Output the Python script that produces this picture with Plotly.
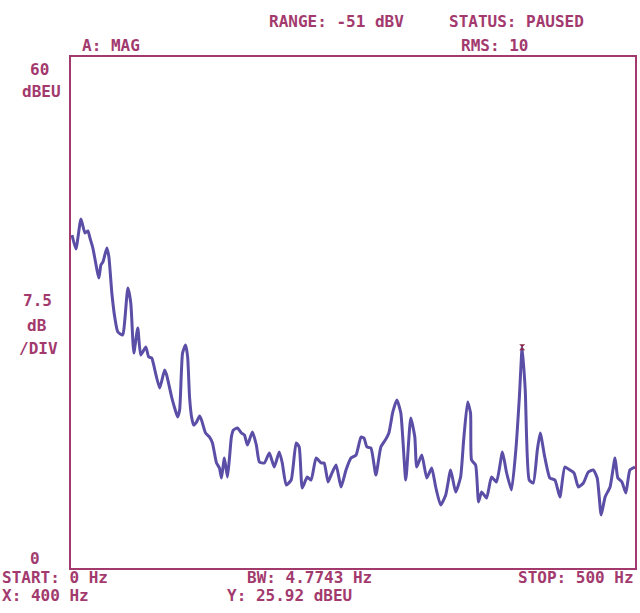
import plotly.graph_objects as go

# Spectrum trace (frequency in Hz, magnitude in dBEU)
freq_hz = [0.9, 4.4, 8.8, 12.4, 15.0, 16.8, 19.4, 24.7, 26.5, 28.3, 31.8, 33.6, 36.2, 38.9,
           41.5, 45.9, 47.7, 50.4, 53.0, 54.8, 55.7, 59.2, 61.8, 66.3, 68.9, 71.6, 73.3, 78.6,
           83.0, 84.8, 89.2, 91.9, 94.5, 96.3, 98.9, 101.6, 103.4, 105.1, 106.9, 108.7, 111.3,
           114.0, 115.7, 119.3, 122.8, 125.4, 129.0, 131.6, 133.4, 136.0, 138.7, 140.5, 142.2,
           144.0, 147.5, 151.1, 153.7, 156.4, 160.8, 164.3, 167.0, 171.4, 175.8, 180.2, 184.6,
           187.3, 190.8, 195.2, 199.6, 202.3, 205.0, 209.4, 212.9, 217.3, 221.7, 224.4, 227.9,
           230.6, 235.0, 239.4, 243.8, 248.2, 252.7, 257.1, 259.7, 262.4, 265.9, 270.3, 274.7,
           279.2, 281.8, 285.3, 288.9, 292.4, 296.8, 301.2, 304.8, 306.5, 311.0, 315.4, 319.8,
           323.3, 327.7, 332.2, 336.6, 341.0, 345.4, 348.1, 351.6, 354.2, 355.1, 358.7, 361.3,
           364.0, 368.4, 372.8, 377.2, 382.5, 386.0, 390.5, 394.5, 397.5, 400.0, 402.7, 406.2,
           409.8, 413.4, 416.0, 420.0, 424.5, 429.0, 433.4, 437.8, 442.2, 446.0, 449.8, 454.2,
           458.6, 463.0, 466.5, 470.0, 473.5, 477.9, 482.3, 484.8, 488.4, 491.9, 495.5, 500.0]
mag_dbeu = [39.10, 37.46, 40.98, 39.33, 39.57, 38.75, 37.57, 34.05, 35.58, 35.93, 37.57, 36.52,
            32.29, 29.35, 27.71, 27.36, 29.12, 32.88, 31.12, 26.77, 25.24, 28.18, 25.01, 25.95,
            24.78, 24.66, 23.84, 21.14, 23.25, 22.66, 20.08, 18.79, 17.73, 18.55, 25.24, 26.18,
            24.78, 20.08, 17.73, 16.79, 17.14, 17.85, 17.38, 15.85, 15.38, 14.68, 12.33, 11.74,
            10.57, 12.92, 10.68, 12.92, 15.38, 16.20, 16.44, 15.85, 15.62, 14.44, 15.97, 14.44,
            12.45, 12.33, 13.50, 11.86, 13.62, 12.33, 9.75, 10.33, 14.68, 14.21, 9.39, 10.68,
            10.33, 12.92, 12.33, 12.33, 10.10, 10.92, 12.09, 9.51, 11.51, 12.92, 13.27, 15.38,
            15.26, 14.21, 14.09, 10.92, 14.21, 15.15, 15.85, 18.32, 19.73, 18.20, 10.33, 17.61,
            15.38, 11.86, 13.27, 10.57, 11.74, 9.51, 7.40, 8.57, 11.51, 8.92, 10.68, 15.03,
            19.49, 18.20, 12.68, 12.09, 7.75, 8.92, 8.22, 10.68, 10.10, 13.62, 11.27, 9.16,
            14.09, 20.08, 25.92, 20.90, 10.33, 9.98, 13.86, 15.85, 13.03, 10.57, 10.33, 8.34,
            11.86, 11.51, 11.15, 9.51, 9.98, 11.27, 11.51, 10.57, 6.22, 8.34, 9.51, 12.92,
            10.57, 10.10, 8.81, 11.51, 11.86]

marker_x = [400]
marker_y = [25.92]

TXT = "#a33a6e"
TRACE = "#5b4ea6"
FONT = "DejaVu Sans Mono"

# plot-area geometry in pixels (for placing the instrument annotations)
L, R, T, B = 71, 637, 57, 568


def pp(xp, yp):
    return (xp - L) / (R - L), (B - yp) / (B - T)


labels = [
    ("A: MAG", 81, 46, "left"),
    ("RANGE: -51 dBV", 269, 21, "left"),
    ("STATUS: PAUSED", 449, 21, "left"),
    ("RMS: 10", 461, 46, "left"),
    ("60", 39, 69, "center"),
    ("dBEU", 41, 91, "center"),
    ("7.5", 37, 300, "center"),
    ("dB", 37, 325, "center"),
    ("/DIV", 38, 348, "center"),
    ("0", 35, 558, "center"),
    ("START: 0 Hz", 1, 578, "left"),
    ("X: 400 Hz", 1, 595, "left"),
    ("BW: 4.7743 Hz", 247, 578, "left"),
    ("Y: 25.92 dBEU", 227, 595, "left"),
    ("STOP: 500 Hz", 519, 578, "left"),
]

fig = go.Figure()
fig.add_trace(go.Scatter(x=freq_hz, y=mag_dbeu, mode="lines",
                         line=dict(color=TRACE, width=3, shape="spline", smoothing=0.5),
                         hoverinfo="skip", showlegend=False))
fig.add_trace(go.Scatter(x=marker_x, y=marker_y, mode="markers",
                         marker=dict(symbol="hourglass", size=6, color="#8a2a4a"),
                         showlegend=False))

annotations = []
for text, xp, yp, anchor in labels:
    ax, ay = pp(xp, yp)
    annotations.append(dict(text="<b>" + text + "</b>", x=ax, y=ay, xref="paper", yref="paper",
                            xanchor=anchor, yanchor="middle", showarrow=False,
                            borderpad=0,
                            font=dict(family=FONT, size=16, color=TXT)))

fig.update_layout(
    width=640, height=613,
    margin=dict(l=L, r=640 - R, t=T, b=613 - B),
    paper_bgcolor="white", plot_bgcolor="white",
    annotations=annotations,
    xaxis=dict(range=[0, 500], showgrid=False, zeroline=False, showticklabels=False,
               ticks="", showline=True, mirror=True, linecolor=TXT, linewidth=2),
    yaxis=dict(range=[0, 60], showgrid=False, zeroline=False, showticklabels=False,
               ticks="", showline=True, mirror=True, linecolor=TXT, linewidth=2),
)

fig.write_html("out.html")
